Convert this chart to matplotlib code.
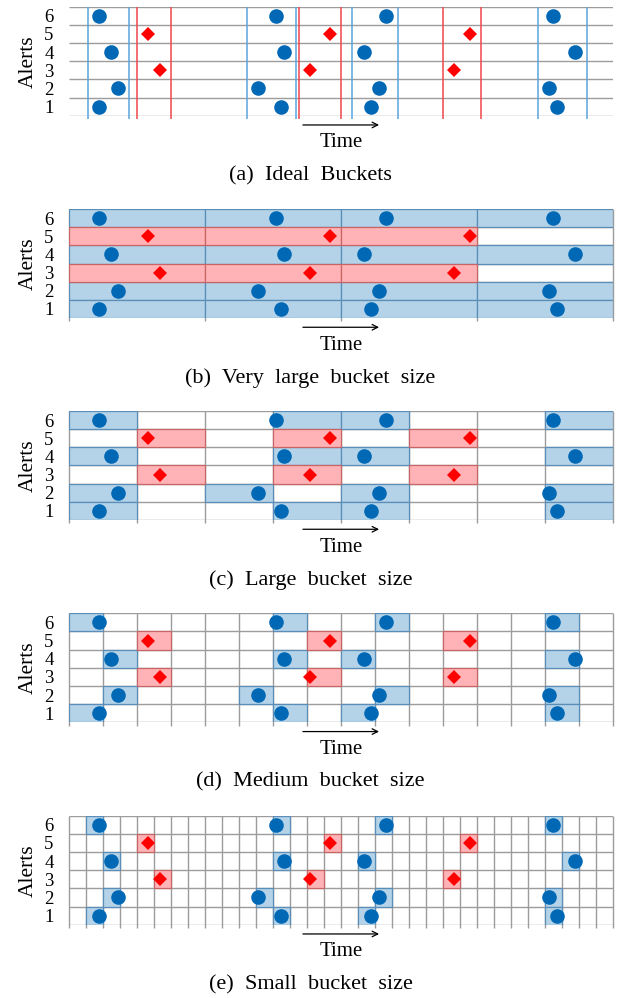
"""
Alert bucketing illustration: ideal buckets vs. fixed bucket sizes.
"""

import math

import matplotlib

matplotlib.use("Agg")
import matplotlib.pyplot as plt

plt.rcParams["font.family"] = ["Liberation Serif", "DejaVu Serif"]

# time axis in units of the smallest bucket
T_MAX = 32
ALERT_ROWS = [1, 2, 3, 4, 5, 6]

circle_alert = [6, 4, 2, 1, 6, 4, 2, 1, 6, 4, 2, 1, 6, 4, 2, 1]
circle_time = [1.78, 2.45, 2.88, 1.78, 12.2, 12.67, 11.12, 12.45,
               18.67, 17.35, 18.24, 17.78, 28.47, 29.78, 28.24, 28.69]
diamond_alert = [5, 3, 5, 3, 5, 3]
diamond_time = [4.67, 5.35, 15.35, 14.2, 23.57, 22.67]

ideal_blue_edges = [1.1, 3.55, 10.45, 13.33, 16.67, 19.33, 27.57, 30.45]
ideal_red_edges = [4.02, 6.0, 13.55, 16.02, 22.02, 24.24]

bucket_sizes = [8, 4, 2, 1]
captions = [
    "(a) Ideal Buckets",
    "(b) Very large bucket size",
    "(c) Large bucket size",
    "(d) Medium bucket size",
    "(e) Small bucket size",
]

BLUE = "#0068B5"
RED = "#FF0000"
BLUE_FILL = "#B4D3E8"
RED_FILL = "#FFB3B6"
BLUE_EDGE = "#5A8DB8"
RED_EDGE = "#C86464"
GRID = "#9C9C9C"

W, H = 621, 998
AX_LEFT, AX_RIGHT = 69, 613
AX_H = 109
PANEL_TOPS = [6.7, 209, 411, 613.3, 815.7]


def make_axes(fig, top_px):
    rect = [AX_LEFT / W, 1 - (top_px + AX_H) / H, (AX_RIGHT - AX_LEFT) / W, AX_H / H]
    ax = fig.add_axes(rect)
    ax.set_xlim(0, T_MAX)
    ax.set_ylim(0.5, 6.5)
    for spine in ax.spines.values():
        spine.set_visible(False)
    ax.set_xticks([])
    ax.set_yticks(ALERT_ROWS)
    ax.set_yticklabels([str(r) for r in ALERT_ROWS], fontsize=13.5)
    ax.tick_params(axis="y", length=0, pad=11)
    ax.set_ylabel("Alerts", fontsize=15.5, labelpad=5)
    ax.hlines([r - 0.5 for r in ALERT_ROWS] + [6.5], 0, T_MAX,
              color=GRID, linewidth=1.0, zorder=1)
    return ax


def draw_markers(ax):
    ax.plot(circle_time, circle_alert, "o", color=BLUE, markersize=10.5,
            markeredgewidth=0, zorder=5, clip_on=False)
    ax.plot(diamond_time, diamond_alert, "D", color=RED, markersize=7,
            markeredgewidth=0, zorder=5, clip_on=False)


def draw_time_arrow(ax):
    ax.annotate("", xy=(0.57, -0.085), xytext=(0.43, -0.085),
                xycoords="axes fraction",
                arrowprops=dict(arrowstyle="->", color="black", lw=0.9,
                                shrinkA=0, shrinkB=0))
    ax.text(0.5, -0.25, "Time", transform=ax.transAxes, ha="center",
            va="center", fontsize=15)


def plot_ideal(ax):
    xt = ax.get_xaxis_transform()
    ax.vlines(ideal_blue_edges, -0.03, 1, transform=xt, color="#5AA5DC",
              linewidth=1.1, clip_on=False, zorder=2)
    ax.vlines(ideal_red_edges, -0.03, 1, transform=xt, color="#F0474A",
              linewidth=1.1, clip_on=False, zorder=2)


def plot_buckets(ax, size):
    edges = list(range(0, T_MAX + 1, size))
    ax.vlines(edges, -0.03, 1, transform=ax.get_xaxis_transform(),
              color=GRID, linewidth=1.0, clip_on=False, zorder=1)

    cells = {}
    for t, a in zip(circle_time, circle_alert):
        cells[(math.floor(t / size) * size, a)] = (BLUE_FILL, BLUE_EDGE)
    for t, a in zip(diamond_time, diamond_alert):
        cells[(math.floor(t / size) * size, a)] = (RED_FILL, RED_EDGE)
    for (left, a), (fill, edge) in cells.items():
        ax.bar(left, 1, width=size, bottom=a - 0.5, align="edge",
               color=fill, edgecolor=edge, linewidth=0.9, zorder=3)


def main():
    fig = plt.figure(figsize=(W / 100, H / 100), dpi=100)
    sizes = [None] + bucket_sizes
    for top, size, cap in zip(PANEL_TOPS, sizes, captions):
        ax = make_axes(fig, top)
        if size is None:
            plot_ideal(ax)
        else:
            plot_buckets(ax, size)
        draw_markers(ax)
        draw_time_arrow(ax)
        # LaTeX-style caption spacing is wider than a plain space
        fig.text(0.5, 1 - (top + AX_H + 60) / H, cap.replace(" ", "  "),
                 ha="center", va="center", fontsize=16)
    fig.savefig("out.png", dpi=100)
    plt.close(fig)


if __name__ == "__main__":
    main()
